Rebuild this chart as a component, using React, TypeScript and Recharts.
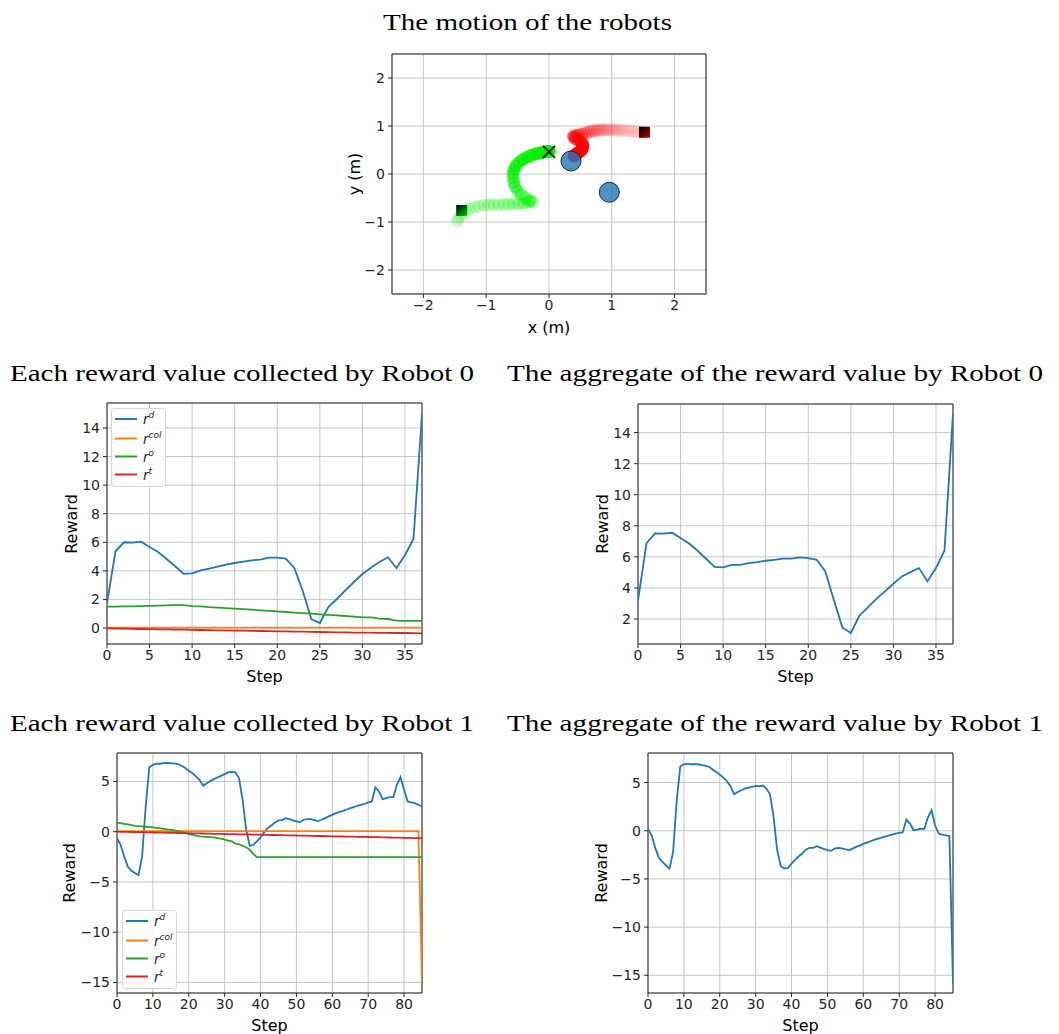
import React from 'react';
import {
  LineChart,
  Line,
  XAxis,
  YAxis,
  CartesianGrid,
  ScatterChart,
  Scatter,
  ReferenceArea,
} from 'recharts';

// ---------------- data ----------------
// Trajectory of robot 0 (green) and robot 1 (red), in metres
const robot0PathX = [-1.46, -1.44, -1.41, -1.37, -1.32, -1.26, -1.19, -1.12, -1.04, -0.96, -0.88, -0.8, -0.72, -0.64, -0.56, -0.48, -0.4, -0.33, -0.27, -0.3, -0.37, -0.44, -0.5, -0.54, -0.56, -0.57, -0.57, -0.56, -0.53, -0.48, -0.42, -0.35, -0.28, -0.21, -0.14, -0.08, -0.03, 0.0];
const robot0PathY = [-0.98, -0.92, -0.86, -0.81, -0.76, -0.72, -0.69, -0.67, -0.65, -0.64, -0.64, -0.64, -0.63, -0.63, -0.62, -0.61, -0.6, -0.59, -0.58, -0.55, -0.5, -0.43, -0.35, -0.26, -0.17, -0.08, 0.01, 0.09, 0.17, 0.24, 0.3, 0.35, 0.39, 0.42, 0.44, 0.46, 0.47, 0.47];
const robot1PathX = [1.47, 1.42, 1.37, 1.32, 1.27, 1.22, 1.17, 1.12, 1.07, 1.02, 0.97, 0.92, 0.87, 0.82, 0.77, 0.72, 0.67, 0.62, 0.57, 0.52, 0.47, 0.43, 0.4, 0.39, 0.42, 0.46, 0.5, 0.53, 0.54, 0.54, 0.53, 0.51, 0.48, 0.45, 0.43, 0.41, 0.4];
const robot1PathY = [0.86, 0.87, 0.88, 0.89, 0.9, 0.9, 0.91, 0.91, 0.92, 0.92, 0.92, 0.92, 0.92, 0.92, 0.91, 0.9, 0.89, 0.87, 0.85, 0.83, 0.81, 0.8, 0.79, 0.77, 0.74, 0.71, 0.68, 0.64, 0.6, 0.56, 0.52, 0.49, 0.46, 0.43, 0.41, 0.39, 0.38];
const obstacleX = [0.35, 0.96];
const obstacleY = [0.27, -0.38];
const squareX = [-1.39, 1.52];
const squareY = [-0.76, 0.87];
const crossX = [0.0];
const crossY = [0.46];
const motionTicks = [-2, -1, 0, 1, 2];

// Robot 0 rewards (steps 0..37)
const robot0Rd = [1.75, 5.37, 6.0, 5.97, 6.04, 5.67, 5.32, 4.83, 4.32, 3.8, 3.83, 4.04, 4.15, 4.29, 4.43, 4.55, 4.64, 4.74, 4.78, 4.92, 4.92, 4.85, 4.2, 2.57, 0.63, 0.35, 1.47, 2.03, 2.64, 3.22, 3.78, 4.22, 4.62, 4.95, 4.2, 5.09, 6.23, 14.98];
const robot0Rcol = [0.02, 0.02, 0.02, 0.02, 0.02, 0.02, 0.02, 0.02, 0.02, 0.02, 0.02, 0.02, 0.02, 0.02, 0.02, 0.02, 0.02, 0.02, 0.02, 0.02, 0.02, 0.02, 0.02, 0.02, 0.02, 0.02, 0.02, 0.02, 0.02, 0.02, 0.02, 0.02, 0.02, 0.02, 0.02, 0.02, 0.02, 0.02];
const robot0Ro = [1.5, 1.5, 1.51, 1.52, 1.53, 1.55, 1.57, 1.59, 1.6, 1.6, 1.53, 1.52, 1.46, 1.43, 1.39, 1.36, 1.32, 1.28, 1.24, 1.2, 1.16, 1.12, 1.08, 1.04, 1.0, 0.96, 0.92, 0.88, 0.84, 0.8, 0.75, 0.74, 0.65, 0.63, 0.52, 0.5, 0.5, 0.5];
const robot0Rt = [-0.03, -0.04, -0.05, -0.06, -0.07, -0.08, -0.09, -0.1, -0.11, -0.12, -0.13, -0.14, -0.15, -0.16, -0.17, -0.18, -0.19, -0.2, -0.21, -0.22, -0.23, -0.24, -0.25, -0.26, -0.27, -0.28, -0.29, -0.3, -0.31, -0.32, -0.33, -0.33, -0.34, -0.34, -0.35, -0.35, -0.36, -0.37];
const robot0Total = [3.18, 6.89, 7.51, 7.49, 7.55, 7.21, 6.86, 6.39, 5.88, 5.36, 5.32, 5.49, 5.49, 5.6, 5.66, 5.75, 5.81, 5.88, 5.88, 5.96, 5.92, 5.81, 5.06, 3.24, 1.46, 1.1, 2.21, 2.75, 3.29, 3.78, 4.27, 4.74, 5.02, 5.28, 4.42, 5.28, 6.41, 15.24];

// Robot 1 rewards (steps 0..85)
const robot1Rd = [-0.64, -1.3, -2.46, -3.46, -3.89, -4.12, -4.32, -2.46, 2.51, 6.42, 6.66, 6.76, 6.76, 6.82, 6.86, 6.79, 6.79, 6.72, 6.56, 6.33, 6.06, 5.83, 5.5, 5.17, 4.57, 4.83, 5.03, 5.23, 5.4, 5.56, 5.73, 5.9, 5.96, 5.9, 5.33, 3.18, 0.19, -1.4, -1.3, -0.97, -0.57, -0.07, 0.36, 0.62, 0.92, 1.12, 1.15, 1.35, 1.25, 1.12, 1.02, 0.95, 1.19, 1.25, 1.25, 1.15, 1.05, 1.19, 1.35, 1.52, 1.68, 1.85, 1.98, 2.08, 2.21, 2.35, 2.45, 2.58, 2.68, 2.78, 2.91, 2.98, 4.4, 4.0, 3.24, 3.34, 3.44, 3.44, 4.67, 5.43, 4.17, 3.01, 2.91, 2.84, 2.68, 2.51];
const robot1Rcol = [0.05, 0.05, 0.05, 0.05, 0.05, 0.05, 0.05, 0.05, 0.05, 0.05, 0.05, 0.05, 0.05, 0.05, 0.05, 0.05, 0.05, 0.05, 0.05, 0.05, 0.05, 0.05, 0.05, 0.05, 0.05, 0.05, 0.05, 0.05, 0.05, 0.05, 0.05, 0.05, 0.05, 0.05, 0.05, 0.05, 0.05, 0.05, 0.05, 0.05, 0.05, 0.05, 0.05, 0.05, 0.05, 0.05, 0.05, 0.05, 0.05, 0.05, 0.05, 0.05, 0.05, 0.05, 0.05, 0.05, 0.05, 0.05, 0.05, 0.05, 0.05, 0.05, 0.05, 0.05, 0.05, 0.05, 0.05, 0.05, 0.05, 0.05, 0.05, 0.05, 0.05, 0.05, 0.05, 0.05, 0.05, 0.05, 0.05, 0.05, 0.05, 0.05, 0.05, 0.05, 0.05, -15.0];
const robot1Ro = [0.91, 0.85, 0.78, 0.72, 0.65, 0.58, 0.55, 0.52, 0.49, 0.46, 0.42, 0.38, 0.33, 0.28, 0.23, 0.19, 0.12, 0.05, -0.03, -0.13, -0.24, -0.32, -0.4, -0.47, -0.5, -0.52, -0.55, -0.57, -0.63, -0.7, -0.8, -0.9, -0.97, -1.2, -1.25, -1.4, -1.55, -1.8, -2.2, -2.53, -2.53, -2.53, -2.53, -2.53, -2.53, -2.53, -2.53, -2.53, -2.53, -2.53, -2.53, -2.53, -2.53, -2.53, -2.53, -2.53, -2.53, -2.53, -2.53, -2.53, -2.53, -2.53, -2.53, -2.53, -2.53, -2.53, -2.53, -2.53, -2.53, -2.53, -2.53, -2.53, -2.53, -2.53, -2.53, -2.53, -2.53, -2.53, -2.53, -2.53, -2.53, -2.53, -2.53, -2.53, -2.53, -2.53];
const robot1Rt = [0, -0.01, -0.02, -0.02, -0.03, -0.04, -0.05, -0.05, -0.06, -0.07, -0.08, -0.08, -0.09, -0.1, -0.11, -0.11, -0.12, -0.13, -0.14, -0.14, -0.15, -0.16, -0.17, -0.17, -0.18, -0.19, -0.2, -0.21, -0.21, -0.22, -0.23, -0.24, -0.24, -0.25, -0.26, -0.27, -0.27, -0.28, -0.29, -0.3, -0.3, -0.31, -0.32, -0.33, -0.33, -0.34, -0.35, -0.36, -0.36, -0.37, -0.38, -0.39, -0.4, -0.4, -0.41, -0.42, -0.43, -0.43, -0.44, -0.45, -0.46, -0.46, -0.47, -0.48, -0.49, -0.49, -0.5, -0.51, -0.52, -0.52, -0.53, -0.54, -0.55, -0.55, -0.56, -0.57, -0.58, -0.59, -0.59, -0.6, -0.61, -0.62, -0.62, -0.63, -0.64, -0.65];
const robot1Total = [0.22, -0.47, -1.75, -2.79, -3.24, -3.58, -3.93, -2.2, 3.17, 6.7, 6.9, 6.97, 6.9, 6.9, 6.9, 6.8, 6.73, 6.63, 6.35, 6.11, 5.83, 5.52, 5.14, 4.62, 3.79, 4.03, 4.2, 4.38, 4.48, 4.55, 4.65, 4.62, 4.69, 4.38, 3.79, 1.44, -2.02, -3.69, -3.93, -3.86, -3.41, -2.99, -2.65, -2.37, -1.96, -1.78, -1.78, -1.61, -1.75, -1.89, -2.02, -2.09, -1.85, -1.78, -1.82, -1.92, -2.02, -1.85, -1.68, -1.54, -1.37, -1.23, -1.09, -0.95, -0.85, -0.71, -0.61, -0.5, -0.4, -0.29, -0.22, -0.16, 1.16, 0.74, 0.05, 0.12, 0.22, 0.19, 1.37, 2.13, 0.57, -0.29, -0.4, -0.47, -0.54, -15.86];

const robot0StepTicks = [0, 5, 10, 15, 20, 25, 30, 35];
const robot1StepTicks = [0, 10, 20, 30, 40, 50, 60, 70, 80];
const robot0EachTicks = [0, 2, 4, 6, 8, 10, 12, 14];
const robot0AggTicks = [2, 4, 6, 8, 10, 12, 14];
const robot1Ticks = [-15, -10, -5, 0, 5];
const legendSups = ['d', 'col', 'o', 't'];
const seriesKeys = ['rd', 'rcol', 'ro', 'rt'];
const seriesColors = ['#1f77b4', '#ff7f0e', '#2ca02c', '#d62728'];

// ---------------- derived tables ----------------
const robot0Rows = robot0Rd.map((v, i) => ({
  step: i, rd: v, rcol: robot0Rcol[i], ro: robot0Ro[i], rt: robot0Rt[i], total: robot0Total[i],
}));
const robot1Rows = robot1Rd.map((v, i) => ({
  step: i, rd: v, rcol: robot1Rcol[i], ro: robot1Ro[i], rt: robot1Rt[i], total: robot1Total[i],
}));
const path0 = robot0PathX.map((x, i) => ({ x, y: robot0PathY[i], i, n: robot0PathX.length }));
const path1 = robot1PathX.map((x, i) => ({ x, y: robot1PathY[i], i, n: robot1PathX.length }));
const obstacles = obstacleX.map((x, i) => ({ x, y: obstacleY[i] }));
const squares = squareX.map((x, i) => ({ x, y: squareY[i], i }));
const crosses = crossX.map((x, i) => ({ x, y: crossY[i] }));

// ---------------- styling helpers ----------------
const SANS = "'DejaVu Sans', Verdana, sans-serif";
const SERIF = "'Liberation Serif', 'DejaVu Serif', serif";
const INK = '#262626';
const GRID = '#c6c6c6';
const YW = 52;
const XH = 28;
const MT = 6;
const MR = 8;

const fmt = (v: number) => (v < 0 ? '\u2212' + Math.abs(v) : String(v));

type Rect = { x: number; y: number; w: number; h: number };

const frame = (r: Rect) => ({
  style: { position: 'absolute' as const, left: r.x - YW, top: r.y - MT },
  width: YW + r.w + MR,
  height: MT + r.h + XH,
});

const tickStyle = { fontSize: 14, fill: INK, fontFamily: SANS };

function pathShape(color: string, base: number) {
  return (props: any) => {
    const { cx, cy, payload } = props;
    const t = payload.i / (payload.n - 1);
    const a = base + (1 - base) * t * t;
    return <circle cx={cx} cy={cy} r={6.5} fill={color} fillOpacity={a} />;
  };
}

const obstacleShape = (props: any) => (
  <circle cx={props.cx} cy={props.cy} r={10} fill="#1f77b4" fillOpacity={0.8} stroke="#1b2a3a" strokeWidth={1} />
);

const squareColors = ['#00cc00', '#b00000'];
const squareShape = (props: any) => {
  const { cx, cy, payload } = props;
  const id = 'sqgrad' + payload.i;
  return (
    <g>
      <defs>
        <linearGradient id={id} x1="0" y1="0" x2="1" y2="1">
          <stop offset="0" stopColor="#000000" />
          <stop offset="1" stopColor={squareColors[payload.i]} />
        </linearGradient>
      </defs>
      <rect x={cx - 5.5} y={cy - 5.5} width={11} height={11} fill={`url(#${id})`} />
    </g>
  );
};

const crossShape = (props: any) => {
  const { cx, cy } = props;
  const s = 6;
  return (
    <g stroke="#000" strokeWidth={1.6}>
      <line x1={cx - s} y1={cy - s} x2={cx + s} y2={cy + s} />
      <line x1={cx - s} y1={cy + s} x2={cx + s} y2={cy - s} />
    </g>
  );
};

function LegendBox({ left, top }: { left: number; top: number }) {
  const rows = [11, 30.5, 48.5, 66.5];
  return (
    <svg style={{ position: 'absolute', left, top, overflow: 'visible' }} width={55} height={79}>
      <rect x={0.5} y={0.5} width={54} height={78} rx={3} fill="#ffffff" fillOpacity={0.85} stroke="#d6d6d6" />
      {legendSups.map((s, i) => (
        <g key={s}>
          <line x1={4} x2={26} y1={rows[i]} y2={rows[i]} stroke={seriesColors[i]} strokeWidth={2} />
          <text x={32} y={rows[i] + 5} fontFamily={SANS} fontStyle="italic" fontSize={13.5} fill={INK}>
            r
            <tspan dy={-6} fontSize={9}>{s}</tspan>
          </text>
        </g>
      ))}
    </svg>
  );
}

function RewardChart({ rect, rows, xDomain, xTicks, yDomain, yTicks, keys }: any) {
  const f = frame(rect);
  return (
    <div style={f.style}>
      <LineChart width={f.width} height={f.height} data={rows} margin={{ top: MT, right: MR, bottom: 0, left: 0 }}>
        <CartesianGrid stroke={GRID} strokeWidth={1} />
        <XAxis
          type="number"
          dataKey="step"
          domain={xDomain}
          ticks={xTicks}
          interval={0}
          allowDataOverflow
          axisLine={false}
          tickLine={{ stroke: INK }}
          tickSize={4}
          tickMargin={2}
          height={XH}
          tick={tickStyle}
          tickFormatter={fmt}
        />
        <YAxis
          type="number"
          domain={yDomain}
          ticks={yTicks}
          interval={0}
          allowDataOverflow
          axisLine={false}
          tickLine={{ stroke: INK }}
          tickSize={4}
          tickMargin={3}
          width={YW}
          tick={tickStyle}
          tickFormatter={fmt}
        />
        {keys.map((k: string) => (
          <Line
            key={k}
            type="linear"
            dataKey={k}
            stroke={k === 'total' ? seriesColors[0] : seriesColors[seriesKeys.indexOf(k)]}
            strokeWidth={1.8}
            dot={false}
            isAnimationActive={false}
          />
        ))}
        <ReferenceArea
          x1={xDomain[0]}
          x2={xDomain[1]}
          y1={yDomain[0]}
          y2={yDomain[1]}
          fill="none"
          fillOpacity={0}
          stroke={INK}
          strokeWidth={1}
          ifOverflow="visible"
        />
      </LineChart>
    </div>
  );
}

function MotionChart({ rect }: { rect: Rect }) {
  const f = frame(rect);
  return (
    <div style={f.style}>
      <ScatterChart width={f.width} height={f.height} margin={{ top: MT, right: MR, bottom: 0, left: 0 }}>
        <CartesianGrid stroke={GRID} strokeWidth={1} />
        <XAxis
          type="number"
          dataKey="x"
          domain={[-2.5, 2.5]}
          ticks={motionTicks}
          interval={0}
          allowDataOverflow
          axisLine={false}
          tickLine={{ stroke: INK }}
          tickSize={4}
          tickMargin={2}
          height={XH}
          tick={tickStyle}
          tickFormatter={fmt}
        />
        <YAxis
          type="number"
          dataKey="y"
          domain={[-2.5, 2.5]}
          ticks={motionTicks}
          interval={0}
          allowDataOverflow
          axisLine={false}
          tickLine={{ stroke: INK }}
          tickSize={4}
          tickMargin={3}
          width={YW}
          tick={tickStyle}
          tickFormatter={fmt}
        />
        <Scatter data={path0} shape={pathShape('#00ee00', 0.16)} isAnimationActive={false} />
        <Scatter data={path1} shape={pathShape('#ff0000', 0.08)} isAnimationActive={false} />
        <Scatter data={obstacles} shape={obstacleShape} isAnimationActive={false} />
        <Scatter data={squares} shape={squareShape} isAnimationActive={false} />
        <Scatter data={crosses} shape={crossShape} isAnimationActive={false} />
        <ReferenceArea x1={-2.5} x2={2.5} y1={-2.5} y2={2.5} fill="none" fillOpacity={0} stroke={INK} strokeWidth={1} ifOverflow="visible" />
      </ScatterChart>
    </div>
  );
}

const TOP: Rect = { x: 392, y: 54, w: 314, h: 240 };
const ML: Rect = { x: 107, y: 403, w: 315, h: 241 };
const MRt: Rect = { x: 638, y: 404, w: 315, h: 240 };
const BL: Rect = { x: 117, y: 753, w: 305, h: 240 };
const BR: Rect = { x: 648, y: 753, w: 305, h: 240 };

function Texts() {
  const title = (x: number, y: number, len: number, s: string) => (
    <text x={x} y={y} fontFamily={SERIF} fontSize={24} fill="#000" textLength={len} lengthAdjust="spacingAndGlyphs">
      {s}
    </text>
  );
  const label = (x: number, y: number, s: string, rot = false) => (
    <text
      x={x}
      y={y}
      fontFamily={SANS}
      fontSize={16}
      fill="#000"
      textAnchor="middle"
      dominantBaseline="central"
      transform={rot ? `rotate(-90 ${x} ${y})` : undefined}
    >
      {s}
    </text>
  );
  return (
    <svg style={{ position: 'absolute', left: 0, top: 0, pointerEvents: 'none' }} width={1059} height={1034}>
      {title(383, 30, 289, 'The motion of the robots')}
      {title(10, 381, 464, 'Each reward value collected by Robot 0')}
      {title(507, 381, 536, 'The aggregate of the reward value by Robot 0')}
      {title(10, 731, 464, 'Each reward value collected by Robot 1')}
      {title(507, 731, 536, 'The aggregate of the reward value by Robot 1')}
      {label(549, 327, 'x (m)')}
      {label(354, 174, 'y (m)', true)}
      {label(71, 524, 'Reward', true)}
      {label(264.5, 676, 'Step')}
      {label(602, 524, 'Reward', true)}
      {label(795.5, 676, 'Step')}
      {label(69, 873, 'Reward', true)}
      {label(269.5, 1025, 'Step')}
      {label(601, 873, 'Reward', true)}
      {label(800.5, 1025, 'Step')}
    </svg>
  );
}

export default function App() {
  return (
    <div style={{ position: 'absolute', left: 0, top: 0, width: 1059, height: 1034, background: '#fff', overflow: 'hidden' }}>
      <MotionChart rect={TOP} />
      <RewardChart rect={ML} rows={robot0Rows} xDomain={[0, 37]} xTicks={robot0StepTicks} yDomain={[-1.12, 15.75]} yTicks={robot0EachTicks} keys={seriesKeys} />
      <RewardChart rect={MRt} rows={robot0Rows} xDomain={[0, 37]} xTicks={robot0StepTicks} yDomain={[0.39, 15.84]} yTicks={robot0AggTicks} keys={['total']} />
      <RewardChart rect={BL} rows={robot1Rows} xDomain={[0, 85]} xTicks={robot1StepTicks} yDomain={[-16.05, 7.83]} yTicks={robot1Ticks} keys={seriesKeys} />
      <RewardChart rect={BR} rows={robot1Rows} xDomain={[0, 85]} xTicks={robot1StepTicks} yDomain={[-16.84, 8.07]} yTicks={robot1Ticks} keys={['total']} />
      <LegendBox left={111} top={408} />
      <LegendBox left={122} top={910} />
      <Texts />
    </div>
  );
}
